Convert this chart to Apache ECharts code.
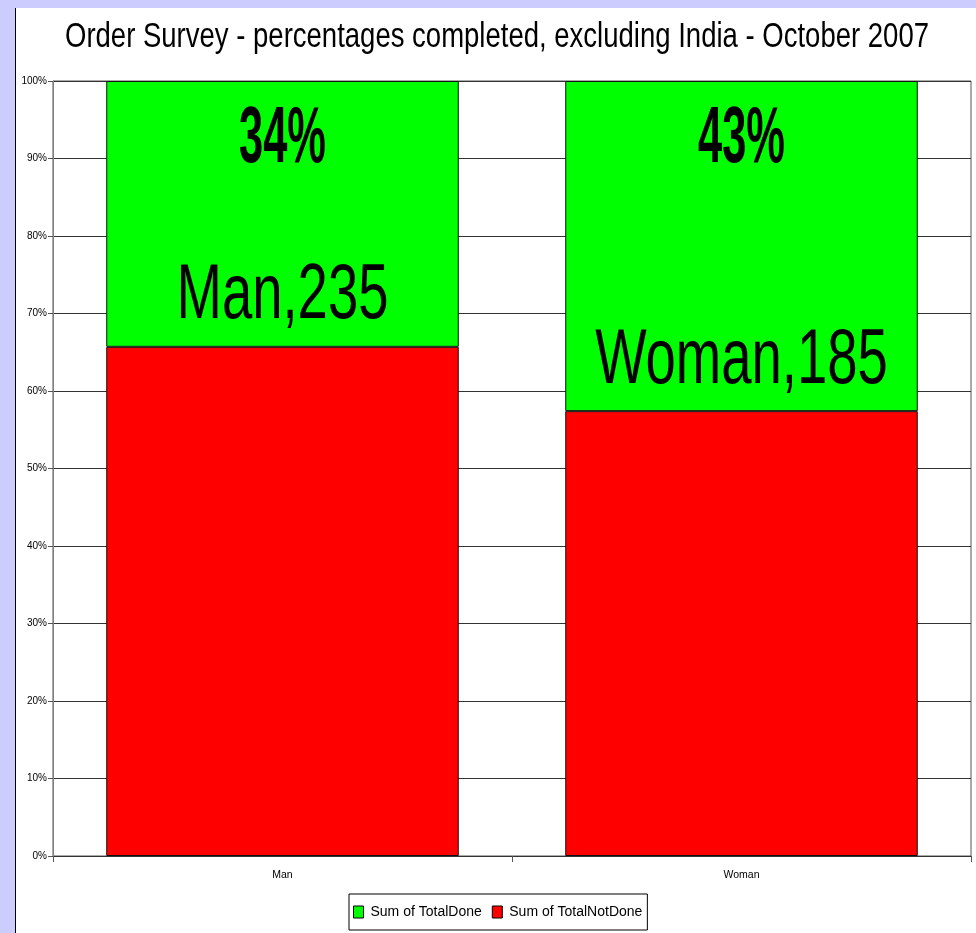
<!DOCTYPE html>
<html><head><meta charset="utf-8">
<script src="https://cdn.jsdelivr.net/npm/echarts@6/dist/echarts.min.js"></script>
<style>
html,body{margin:0;padding:0;background:#ccccff;width:976px;height:933px;overflow:hidden}
#wrap{position:absolute;left:15px;top:8px;width:961px;height:925px;border-left:1px solid #000;box-sizing:border-box;background:#fff}
#chart{width:960px;height:925px}
</style></head><body><div id="wrap"><div id="chart"></div></div>
<script>
const titleText = 'Order Survey - percentages completed, excluding India - October 2007';
const categories = ['Man', 'Woman'];
const totalDone = [34.3, 42.6];
const totalNotDone = [65.7, 57.4];
const respondents = [235, 185];
const pctLabels = ['34%', '43%'];
const seriesNames = ['Sum of TotalDone', 'Sum of TotalNotDone'];

const NARROW = "'Liberation Sans Narrow', 'Liberation Sans', Arial, sans-serif";
const chart = echarts.init(document.getElementById('chart'), null, {renderer: 'canvas'});

chart.setOption({
  animation: false,
  backgroundColor: '#ffffff',
  grid: {left: 37, right: 5, top: 73, bottom: 77, show: true, borderColor: '#555', borderWidth: 1, backgroundColor: 'transparent'},
  legend: {
    data: seriesNames,
    left: 333, top: 886,
    orient: 'horizontal',
    icon: 'rect', itemWidth: 10, itemHeight: 12, itemGap: 10,
    padding: [11, 5, 11, 4],
    borderColor: '#000', borderWidth: 1,
    itemStyle: {borderColor: '#000', borderWidth: 1},
    textStyle: {fontFamily: NARROW, fontSize: 14, color: '#000', padding: [0, 0, 0, 2]}
  },
  xAxis: {
    type: 'category', data: categories,
    axisLine: {lineStyle: {color: '#333', width: 1}},
    axisTick: {show: true, length: 6, lineStyle: {color: '#555'}},
    axisLabel: {fontFamily: NARROW, fontSize: 10.5, color: '#000', margin: 14},
    splitLine: {show: false}
  },
  yAxis: {
    type: 'value', min: 0, max: 100, interval: 10,
    axisLine: {show: true, lineStyle: {color: '#808080', width: 1}},
    axisTick: {show: true, length: 5, inside: false, lineStyle: {color: '#555'}},
    axisLabel: {formatter: '{value}%', fontFamily: NARROW, fontSize: 10, color: '#000', margin: 6},
    splitLine: {show: true, lineStyle: {color: '#333', width: 1}}
  },
  series: [
    {
      name: seriesNames[1], type: 'bar', stack: 'total', data: totalNotDone,
      barWidth: '76.8%',
      itemStyle: {color: '#ff0000', borderColor: '#111', borderWidth: 1}
    },
    {
      name: seriesNames[0], type: 'bar', stack: 'total', data: totalDone,
      barWidth: '76.8%',
      itemStyle: {color: '#00ff00', borderColor: '#111', borderWidth: 1}
    }
  ]
});

const cvs = document.createElement('canvas');
const ctx = cvs.getContext('2d');
function measure(font, text) { ctx.font = font; return ctx.measureText(text).width; }

const titleFont = "35px " + NARROW;
const pctFont = "bold 80px " + NARROW;
const cntFont = "78px " + NARROW;
const titleScale = 864 / measure(titleFont, titleText);
const pctScale = 87 / measure(pctFont, pctLabels[0]);
const cntScale = 212 / measure(cntFont, categories[0] + ',' + respondents[0]);

const graphics = [{
  type: 'text', x: 481, y: 29, scaleX: titleScale, z: 100,
  style: {text: titleText, font: titleFont, fill: '#000', textAlign: 'center', textVerticalAlign: 'middle'}
}];
categories.forEach((c, i) => {
  const top = chart.convertToPixel({gridIndex: 0}, [c, 100]);
  const red = chart.convertToPixel({gridIndex: 0}, [c, totalNotDone[i]]);
  graphics.push({
    type: 'text', x: top[0], y: top[1] + 59, scaleX: pctScale, z: 100,
    style: {text: pctLabels[i], font: pctFont, fill: '#000', textAlign: 'center', textVerticalAlign: 'middle'}
  });
  graphics.push({
    type: 'text', x: red[0], y: red[1] - 50, scaleX: cntScale, z: 100,
    style: {text: c + ',' + respondents[i], font: cntFont, fill: '#000', textAlign: 'center', textVerticalAlign: 'middle'}
  });
});
chart.setOption({graphic: graphics});
</script></body></html>
